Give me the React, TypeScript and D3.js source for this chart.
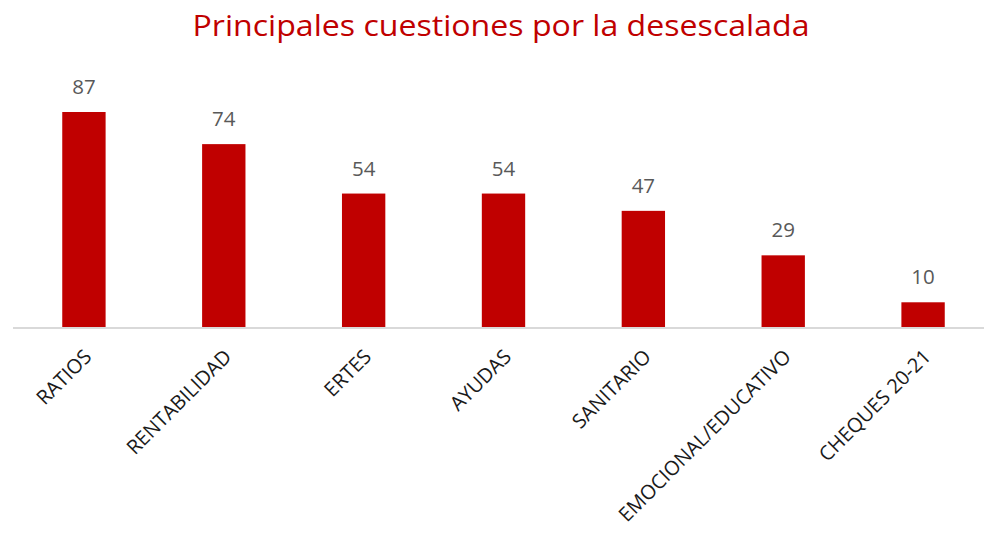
import React from "react";
import * as d3 from "d3";

const categories = ["RATIOS", "RENTABILIDAD", "ERTES", "AYUDAS", "SANITARIO", "EMOCIONAL/EDUCATIVO", "CHEQUES 20-21"];
const values = [87, 74, 54, 54, 47, 29, 10];
const title = "Principales cuestiones por la desescalada";

const W = 984;
const H = 535;
const FONT = "'Open Sans', 'DejaVu Sans', sans-serif";

export default function App() {
  const x = d3.scaleBand<string>().domain(categories).range([14, 993]).paddingInner(0.69).paddingOuter(0.345);
  const y = d3.scaleLinear().domain([0, 87]).range([327, 112]);
  return (
    <svg width={W} height={H} style={{ position: "absolute", left: 0, top: 0, background: "#fff" }}>
      <text x={501} y={36} textAnchor="middle" fill="#C00000" fontFamily={FONT} fontSize={29} textLength={617} lengthAdjust="spacingAndGlyphs">
        {title}
      </text>
      {categories.map((c, i) => (
        <rect key={c} x={x(c)} y={y(values[i])} width={x.bandwidth()} height={y(0) - y(values[i])} fill="#C00000" />
      ))}
      <line x1={13} x2={984} y1={328} y2={328} stroke="#D9D9D9" strokeWidth={2} />
      {categories.map((c, i) => (
        <text key={c + "v"} x={(x(c) as number) + x.bandwidth() / 2} y={y(values[i]) - 18} textAnchor="middle" fill="#595959" fontFamily={FONT} fontSize={20.5}>
          {values[i]}
        </text>
      ))}
      {categories.map((c) => {
        const cx = (x(c) as number) + x.bandwidth() / 2;
        return (
          <text key={c + "l"} transform={`translate(${cx + 4},${353}) rotate(-45)`} textAnchor="end" dy="0.35em" fill="#1a1a1a" fontFamily={FONT} fontSize={20}>
            {c}
          </text>
        );
      })}
    </svg>
  );
}
